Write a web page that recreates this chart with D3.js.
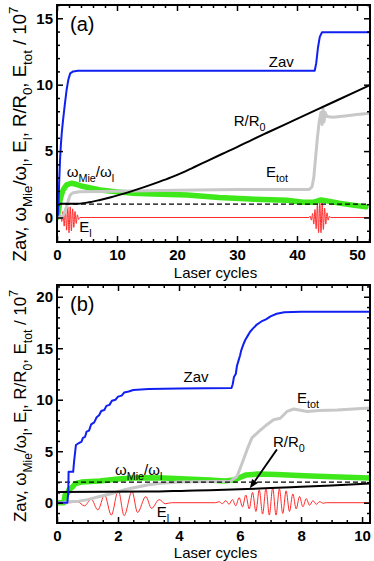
<!DOCTYPE html>
<html><head><meta charset="utf-8">
<script src="https://cdn.jsdelivr.net/npm/d3@7"></script>
<style>
body{margin:0;background:#fff}
svg{display:block}
text{font-family:"Liberation Sans",Arial,Helvetica,sans-serif}
</style>
</head><body>
<svg id="chart" width="374" height="561"></svg>
<script>
// ---------------- DATA ----------------
// Panel (a): x = laser cycles
const aZav = [[0,0],[0.2,0.3],[0.35,2.5],[0.5,4.3],[0.65,5.5],[0.8,6.4],[1.0,7.3],[1.3,8.5],[1.6,9.6],[1.9,10.4],[2.2,10.85],[2.7,11.0],[3.5,11.05],[42.95,11.05],[43.2,11.6],[43.5,12.8],[43.8,13.6],[44.17,13.95],[52.17,13.95]];
const aR = [[0,1.03],[3,1.03],[5,1.12],[7,1.3],[9,1.52],[11,1.78],[13,2.06],[15,2.36],[17,2.68],[19,3.02],[21,3.4],[23,3.82],[25,4.25],[27.5,4.78],[30,5.3],[32.5,5.85],[35,6.38],[40,7.42],[45,8.47],[50,9.52],[52.17,9.97]];
const aMie = [[0,0],[0.25,0.5],[0.5,1.3],[0.8,1.8],[1.05,2.1],[1.6,2.45],[2.4,2.58],[3.2,2.5],[4.4,2.33],[7.2,2.07],[10,1.93],[12.7,1.82],[16,1.77],[21.7,1.7],[27,1.5],[33,1.37],[38.3,1.3],[41,1.15],[42.8,1.15],[43.5,1.25],[44,1.32],[45,1.25],[47,1.08],[49,0.95],[51.5,0.8]];
const aEtot = [[0,0],[0.8,0.05],[1.2,0.3],[1.6,0.8],[1.9,1.3],[2.2,1.7],[2.7,1.87],[3.8,1.94],[10,1.98],[20,2.05],[30,2.1],[42.0,2.1],[42.5,2.3],[42.8,3.0],[43.1,4.5],[43.4,6.0],[43.7,7.2],[44.0,7.9],[44.2,7.0],[44.35,8.2],[44.5,7.2],[44.7,7.9],[45.0,7.6],[46,7.55],[48,7.65],[50,7.75],[52.17,7.85]];
const aEl = [[0,0],[0.4,0],[0.6,0.15],[0.8,-0.3],[1.0,0.45],[1.2,-0.65],[1.4,0.7],[1.6,-0.95],[1.8,0.8],[2.0,-1.15],[2.2,0.8],[2.4,-1.0],[2.6,0.65],[2.8,-0.75],[3.0,0.45],[3.2,-0.45],[3.4,0.2],[3.6,-0.15],[3.8,0],
  [42.0,0],[42.2,0.1],[42.4,-0.2],[42.6,0.3],[42.8,-0.5],[43.0,0.6],[43.2,-0.85],[43.4,1.0],[43.6,-1.15],[43.8,1.25],[44.0,-1.15],[44.2,1.05],[44.4,-0.9],[44.6,0.7],[44.8,-0.5],[45.0,0.35],[45.2,-0.2],[45.4,0.1],[45.6,0],[52.17,0]];
const aDash = 1.0;
const aXTicks = [0,10,20,30,40,50];
const aYTicks = [0,5,10,15];

// Panel (b)
const bZav = [[0,0],[0.34,0],[0.37,1.0],[0.38,3.0],[0.53,3.0],[0.56,4.0],[0.62,5.6],[0.72,5.8],[0.8,5.9],[0.85,6.3],[0.92,6.4],[0.97,6.9],[1.05,7.0],[1.12,7.6],[1.22,7.8],[1.3,8.3],[1.38,8.5],[1.45,8.9],[1.55,9.0],[1.62,9.4],[1.72,9.5],[1.8,9.9],[1.92,10.0],[2.0,10.3],[2.12,10.4],[2.2,10.7],[2.35,10.8],[2.5,10.95],[3.0,11.05],[4.0,11.1],[5.72,11.15],[5.76,11.5],[5.8,12.2],[5.86,12.5],[5.9,13.3],[5.95,13.8],[6.0,14.3],[6.04,14.8],[6.1,15.3],[6.17,15.8],[6.25,16.2],[6.33,16.6],[6.42,16.9],[6.55,17.3],[6.7,17.6],[6.85,17.8],[7.0,18.1],[7.2,18.35],[7.45,18.5],[8,18.55],[10.26,18.55]];
const bR = [[0,1.05],[3,1.08],[4.26,1.17],[5,1.22],[6.23,1.33],[7,1.42],[8,1.55],[9,1.68],[10.26,1.86]];
const bMie = [[0,0],[0.22,0],[0.27,0.8],[0.35,0.95],[0.4,1.3],[0.5,1.5],[0.6,1.85],[0.8,2.0],[1.4,2.1],[2.0,2.3],[2.5,2.4],[3.0,2.42],[3.5,2.4],[4.25,2.3],[5.0,2.2],[5.5,2.12],[5.8,2.2],[6.0,2.45],[6.2,2.7],[6.6,2.78],[7.2,2.75],[8.1,2.62],[9.0,2.52],[10.26,2.4]];
const bEtot = [[0,0],[0.2,0],[0.35,0.1],[0.7,0.15],[1.0,0.3],[1.4,0.6],[1.8,0.9],[2.2,1.25],[2.6,1.5],[3.0,1.75],[3.4,1.9],[4.0,2.0],[5.0,2.05],[5.68,2.07],[5.9,2.55],[6.07,3.85],[6.23,5.15],[6.39,6.3],[6.61,6.9],[6.89,7.6],[7.1,8.06],[7.32,8.2],[7.54,8.86],[7.76,9.1],[8.2,8.86],[8.6,8.95],[9.18,9.0],[10.26,9.2]];
const bEl = [[0,0],[0.45,0],[0.67,0.1],[0.9,-0.3],[1.12,0.35],[1.34,-0.7],[1.56,0.75],[1.78,-1.2],[2.01,1.2],[2.2,-1.25],[2.46,1.1],[2.64,-0.95],[2.91,0.6],[3.1,-0.55],[3.35,0.3],[3.55,-0.1],[3.75,0],
  [5.2,0],[5.31,0.1],[5.42,-0.1],[5.53,0.2],[5.64,-0.15],[5.75,0.3],[5.86,-0.3],[5.97,0.5],[6.08,-0.4],[6.19,0.75],[6.3,-0.6],[6.41,1.0],[6.52,-0.85],[6.63,1.25],[6.74,-1.1],[6.85,1.4],[6.96,-1.2],[7.07,1.45],[7.18,-1.2],[7.29,1.35],[7.4,-1.05],[7.51,1.15],[7.62,-0.85],[7.73,0.85],[7.84,-0.6],[7.95,0.6],[8.06,-0.4],[8.17,0.4],[8.28,-0.25],[8.39,0.2],[8.5,-0.15],[8.61,0.1],[8.72,-0.05],[8.83,0],[10.26,0]];
const bDash = 2.0;
const bXTicks = [0,2,4,6,8,10];
const bYTicks = [0,5,10,15,20];

// ---------------- DRAWING ----------------
const svg = d3.select("#chart");
const C = {blue:"#1020f0", black:"#000", green:"#3ee81a", gray:"#c8c8c8", red:"#ff2a2a"};

function rich(g, x, y, parts, fs, extra){
  // parts: [text, mode] mode 0 normal, 1 sub, 2 sup
  const t = g.append("text").attr("x", x).attr("y", y).attr("font-size", fs);
  if (extra) extra(t);
  let off = 0;
  parts.forEach(([s, m]) => {
    const target = m === 1 ? 0.33 : (m === 2 ? -0.45 : 0);
    t.append("tspan").text(s)
      .attr("dy", ((target - off) * fs).toFixed(2))
      .attr("font-size", m ? fs * 0.72 : fs);
    off = target;
  });
  return t;
}

function panel(cfg){
  const x = d3.scaleLinear().domain(cfg.xDom).range([cfg.left, cfg.right]);
  const y = d3.scaleLinear().domain(cfg.yDom).range([cfg.bottom, cfg.top]);
  const g = svg.append("g");
  const id = "clip" + cfg.name;
  g.append("clipPath").attr("id", id).append("rect")
    .attr("x", cfg.left).attr("y", cfg.top)
    .attr("width", cfg.right - cfg.left).attr("height", cfg.bottom - cfg.top);
  const plot = g.append("g").attr("clip-path", `url(#${id})`);
  const line = d3.line().x(d => x(d[0])).y(d => y(d[1]));
  const smooth = d3.line().x(d => x(d[0])).y(d => y(d[1])).curve(d3.curveMonotoneX);

  plot.append("path").datum(cfg.el).attr("d", smooth).attr("fill","none").attr("stroke",C.red).attr("stroke-width",1);
  plot.append("path").datum(cfg.mie).attr("d", line).attr("fill","none").attr("stroke",C.green).attr("stroke-width",5.5).attr("stroke-linejoin","round").attr("stroke-linecap","round");
  plot.append("path").datum(cfg.etot).attr("d", line).attr("fill","none").attr("stroke",C.gray).attr("stroke-width",3).attr("stroke-linejoin","round");
  plot.append("line").attr("x1", x(cfg.xDom[0])).attr("x2", x(cfg.xDom[1]))
    .attr("y1", y(cfg.dash)).attr("y2", y(cfg.dash))
    .attr("stroke","#000").attr("stroke-width",1.2).attr("stroke-dasharray","5,3");
  plot.append("path").datum(cfg.r).attr("d", smooth).attr("fill","none").attr("stroke",C.black).attr("stroke-width",2);
  plot.append("path").datum(cfg.zav).attr("d", line).attr("fill","none").attr("stroke",C.blue).attr("stroke-width",2).attr("stroke-linejoin","round");

  // axes (inward ticks on all four sides)
  const xMinor = d3.range(cfg.xDom[0], cfg.xDom[1] + 1e-9, cfg.xMinorStep).filter(v => !cfg.xTicks.some(t => Math.abs(t - v) < 1e-6));
  const yMinor = d3.range(Math.ceil(cfg.yDom[0]), cfg.yDom[1] + 1e-9, 1).filter(v => !cfg.yTicks.some(t => Math.abs(t - v) < 1e-6));
  const style = sel => { sel.select(".domain").remove(); sel.selectAll("line").attr("stroke","#000").attr("stroke-width",1.5); };
  const lab = s => s.selectAll("text").attr("font-size",15).attr("font-weight","bold").attr("font-family","Liberation Sans, Arial, sans-serif").attr("fill","#000");

  g.append("g").attr("transform",`translate(0,${cfg.bottom})`)
    .call(d3.axisBottom(x).tickValues(cfg.xTicks).tickSize(-6).tickPadding(7.5).tickFormat(d3.format("d")))
    .call(style).call(lab);
  g.append("g").attr("transform",`translate(0,${cfg.bottom})`)
    .call(d3.axisBottom(x).tickValues(xMinor).tickSize(-3).tickFormat("")).call(style);
  g.append("g").attr("transform",`translate(0,${cfg.top})`)
    .call(d3.axisTop(x).tickValues(cfg.xTicks).tickSize(-6).tickFormat("")).call(style);
  g.append("g").attr("transform",`translate(0,${cfg.top})`)
    .call(d3.axisTop(x).tickValues(xMinor).tickSize(-3).tickFormat("")).call(style);

  g.append("g").attr("transform",`translate(${cfg.left},0)`)
    .call(d3.axisLeft(y).tickValues(cfg.yTicks).tickSize(-6).tickPadding(4).tickFormat(d3.format("d")))
    .call(style).call(lab);
  g.append("g").attr("transform",`translate(${cfg.left},0)`)
    .call(d3.axisLeft(y).tickValues(yMinor).tickSize(-3).tickFormat("")).call(style);
  g.append("g").attr("transform",`translate(${cfg.right},0)`)
    .call(d3.axisRight(y).tickValues(cfg.yTicks).tickSize(-6).tickFormat("")).call(style);
  g.append("g").attr("transform",`translate(${cfg.right},0)`)
    .call(d3.axisRight(y).tickValues(yMinor).tickSize(-3).tickFormat("")).call(style);

  g.append("rect").attr("x", cfg.left).attr("y", cfg.top)
    .attr("width", cfg.right - cfg.left).attr("height", cfg.bottom - cfg.top)
    .attr("fill","none").attr("stroke","#000").attr("stroke-width",2);

  // panel letter
  g.append("text").attr("x", cfg.left + 13).attr("y", cfg.top + 26)
    .attr("font-family","Liberation Serif, Times New Roman, serif").attr("font-size",20).text(cfg.letter);

  // x axis title
  g.append("text").attr("x", (cfg.left + cfg.right) / 2 + 2).attr("y", cfg.bottom + cfg.xTitleDy)
    .attr("text-anchor","middle").attr("font-size",15).text("Laser cycles");

  // y axis title
  const yt = rich(g, 0, 0, [["Zav, ω",0],["Mie",1],["/ω",0],["l",1],[", E",0],["l",1],[", R/R",0],["0",1],[", E",0],["tot",1],[" / 10",0],["7",2]], 15,
    t => t.attr("text-anchor","middle").attr("transform", `translate(${cfg.yTitleX},${cfg.yTitleY}) rotate(-90)`));
  const len = yt.node().getComputedTextLength();
  const fs = 15 * cfg.yTitleLen / len;
  yt.attr("font-size", fs);
  yt.selectAll("tspan").each(function(){
    const el = d3.select(this);
    const isSmall = +el.attr("font-size") < 15;
    el.attr("font-size", isSmall ? fs * 0.72 : fs);
    el.attr("dy", (+el.attr("dy")) * fs / 15);
  });

  // curve labels
  cfg.labels.forEach(L => rich(g, x(L.at[0]), y(L.at[1]), L.parts, 15));

  // arrow
  if (cfg.arrow){
    const [p0, p1] = cfg.arrow.map(d => [x(d[0]), y(d[1])]);
    const ang = Math.atan2(p1[1] - p0[1], p1[0] - p0[0]);
    const hl = 9, hw = 3.5;
    const bx = p1[0] - hl * Math.cos(ang), by = p1[1] - hl * Math.sin(ang);
    g.append("line").attr("x1", p0[0]).attr("y1", p0[1]).attr("x2", bx).attr("y2", by)
      .attr("stroke","#000").attr("stroke-width",1.8);
    g.append("path").attr("d", d3.line()([
      [p1[0], p1[1]],
      [bx + hw * Math.sin(ang), by - hw * Math.cos(ang)],
      [bx - hw * Math.sin(ang), by + hw * Math.cos(ang)]
    ]) + "Z").attr("fill","#000");
  }
}

panel({
  name:"A", letter:"(a)", left:57, right:370, top:5, bottom:242,
  xDom:[0,52.17], yDom:[-1.845,16.0], xTicks:aXTicks, yTicks:aYTicks, xMinorStep:2,
  zav:aZav, r:aR, mie:aMie, etot:aEtot, el:aEl, dash:aDash,
  xTitleDy:35.5, yTitleX:26, yTitleY:134, yTitleLen:255,
  labels:[
    {at:[35.3,11.33], parts:[["Zav",0]]},
    {at:[29.45,6.89], parts:[["R/R",0],["0",1]]},
    {at:[34.83,3.05], parts:[["E",0],["tot",1]]},
    {at:[1.62,3.05], parts:[["ω",0],["Mie",1],["/ω",0],["l",1]]},
    {at:[3.72,-1.07], parts:[["E",0],["l",1]]}
  ]
});

panel({
  name:"B", letter:"(b)", left:57, right:370, top:285, bottom:523,
  xDom:[0,10.26], yDom:[-1.97,21.14], xTicks:bXTicks, yTicks:bYTicks, xMinorStep:0.5,
  zav:bZav, r:bR, mie:bMie, etot:bEtot, el:bEl, dash:bDash,
  xTitleDy:35, yTitleX:26, yTitleY:406, yTitleLen:232,
  labels:[
    {at:[4.15,11.75], parts:[["Zav",0]]},
    {at:[7.87,9.69], parts:[["E",0],["tot",1]]},
    {at:[7.08,5.38], parts:[["R/R",0],["0",1]]},
    {at:[1.9,2.69], parts:[["ω",0],["Mie",1],["/ω",0],["l",1]]},
    {at:[3.27,-1.39], parts:[["E",0],["l",1]]}
  ],
  arrow:[[7.21,5.18],[6.32,1.4]]
});
</script>
</body></html>
